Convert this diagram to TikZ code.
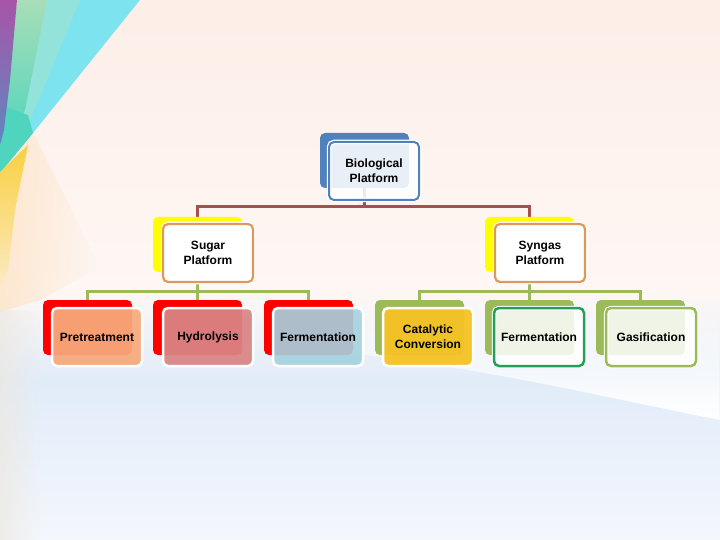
\documentclass[tikz,border=0pt]{standalone}
\usepackage{fontspec}
\setmainfont{Liberation Sans}
\usetikzlibrary{fadings}
\pgfdeclarelayer{bgl}
\pgfdeclarelayer{connl}
\pgfsetlayers{bgl,connl,main}
\definecolor{bioblue}{HTML}{4F81BD}
\definecolor{sugyel}{HTML}{FFFF00}
\definecolor{orng}{HTML}{DE985C}
\definecolor{olive}{HTML}{9BBB59}
\definecolor{redb}{HTML}{FF0000}
\definecolor{brn}{HTML}{A5504D}
\definecolor{pretc}{HTML}{F7AA7C}
\definecolor{hydc}{HTML}{D98585}
\definecolor{fermc}{HTML}{A5D2E0}
\definecolor{catc}{HTML}{F6C325}
\definecolor{dgreen}{HTML}{22A058}
\definecolor{bgtop}{HTML}{FDEEE7}
\definecolor{bgmid}{HTML}{FEF7F4}
\definecolor{bgblue}{HTML}{E1ECF9}
\definecolor{bgbot}{HTML}{F4F7FC}
\definecolor{bgpeach}{HTML}{FDE7CF}
\definecolor{bgstrip}{HTML}{ECE8E0}
\definecolor{rcyan}{HTML}{7DE3EE}
\definecolor{rmint}{HTML}{A8DDB8}
\definecolor{rmint2}{HTML}{9EE3D3}
\definecolor{rteal}{HTML}{4FD5BD}
\definecolor{rpurp}{HTML}{A855A8}
\definecolor{rblue}{HTML}{5E88C0}
\definecolor{ryel}{HTML}{F8D040}
\definecolor{ryel2}{HTML}{FCE9C0}
\begin{document}
\begin{tikzpicture}[x=1pt,y=-1pt,
  backbox/.style={rounded corners=5pt, minimum width=89pt, minimum height=55pt, anchor=north west, inner sep=0pt, outer sep=0pt},
  frontbox/.style={rounded corners=5pt, minimum width=90pt, minimum height=58pt, anchor=north west, inner sep=0pt, outer sep=0pt, align=center, text opacity=1, font=\fontsize{12}{15}\selectfont\bfseries},
  halo/.style={preaction={draw=white, draw opacity=1, line width=4.5pt}},
  conn/.style={line width=3pt}
]
\useasboundingbox (0,0) rectangle (720,540);
\begin{pgfonlayer}{bgl}
  \fill[top color=bgtop, bottom color=bgmid] (0,0) rectangle (720,290);
  \fill[top color=bgmid, bottom color=bgblue] (0,290) rectangle (720,380);
  \fill[top color=bgblue, bottom color=bgbot] (0,380) rectangle (720,540);
  \fill[white, path fading=north] (320,290) -- (720,290) -- (720,420) .. controls (580,392) and (470,365) .. (320,350) -- cycle;
  % left peach and strip
  \fill[bgpeach, path fading=east] (0,150) -- (33,133) -- (100,267) -- (40,300) -- (0,312) -- cycle;
  \fill[bgstrip, path fading=east, opacity=0.7] (0,310) rectangle (40,540);
  % rainbow streaks
  \fill[rcyan] (47,0) -- (140,0) -- (33,133) -- (0,173) -- (0,120) -- cycle;
  \fill[rmint2, opacity=0.7] (40,0) -- (80,0) -- (30,120) -- (12,135) -- cycle;
  \shade[top color=rmint, bottom color=rteal] (17,0) -- (47,0) -- (25,110) -- (8,145) -- (2,140) -- cycle;
  \fill[rteal] (0,105) -- (28,115) -- (33,133) -- (0,173) -- cycle;
  \shade[top color=rpurp, bottom color=rblue] (0,0) -- (17,0) -- (10,80) -- (4,130) -- (0,145) -- cycle;
  \shade[top color=ryel, bottom color=ryel2] (0,172) -- (28,145) -- (15,210) -- (8,270) -- (0,285) -- cycle;
\end{pgfonlayer}

% top level
\node[backbox, fill=bioblue] (bioB) at (320,133) {};
\node[frontbox, halo, fill=white, fill opacity=0.88, draw=bioblue, line width=2pt] (bioF) at (329,142) {Biological\\Platform};

% second level
\node[backbox, fill=sugyel] (sugB) at (153,217) {};
\node[frontbox, halo, fill=white, draw=orng, line width=2.2pt] (sugF) at (163,224) {Sugar\\Platform};
\node[backbox, fill=sugyel] (synB) at (485,217) {};
\node[frontbox, halo, fill=white, draw=orng, line width=2.2pt] (synF) at (495,224) {Syngas\\Platform};

% third level
\node[backbox, fill=redb] (preB) at (43,300) {};
\node[frontbox, fill=pretc, fill opacity=0.93, draw=white, line width=2.5pt] (preF) at (52,308) {Pretreatment};
\node[backbox, fill=redb] (hydB) at (153,300) {};
\node[frontbox, fill=hydc, fill opacity=0.93, draw=white, line width=2.5pt] (hydF) at (163,308) {Hydrolysis};
\node[backbox, fill=redb] (fe1B) at (264,300) {};
\node[frontbox, fill=fermc, fill opacity=0.9, draw=white, line width=2.5pt] (fe1F) at (273,308) {Fermentation};
\node[backbox, fill=olive] (catB) at (375,300) {};
\node[frontbox, fill=catc, fill opacity=0.95, draw=white, line width=2.5pt] (catF) at (383,308) {Catalytic\\Conversion};
\node[backbox, fill=olive] (fe2B) at (485,300) {};
\node[frontbox, halo, fill=white, fill opacity=0.85, draw=dgreen, line width=2.5pt] (fe2F) at (494,308) {Fermentation};
\node[backbox, fill=olive] (gasB) at (596,300) {};
\node[frontbox, halo, fill=white, fill opacity=0.85, draw=olive, line width=2.5pt] (gasF) at (606,308) {Gasification};

\coordinate (h1) at (364.5,207);
\coordinate (h2) at (197.5,291);
\coordinate (h3) at (529.5,291);
\begin{pgfonlayer}{connl}
  \draw[conn, brn] (bioB.south) -- (h1) -| (sugB.north);
  \draw[conn, brn] (h1) -| (synB.north);
  \draw[conn, olive] (sugB.south) -- (h2) -| (preB.north);
  \draw[conn, olive] (h2) -| (fe1B.north);
  \draw[conn, olive] (h2) -- (hydB.north);
  \draw[conn, olive] (synB.south) -- (h3) -| (catB.north);
  \draw[conn, olive] (h3) -| (gasB.north);
  \draw[conn, olive] (h3) -- (fe2B.north);
\end{pgfonlayer}
\end{tikzpicture}
\end{document}
